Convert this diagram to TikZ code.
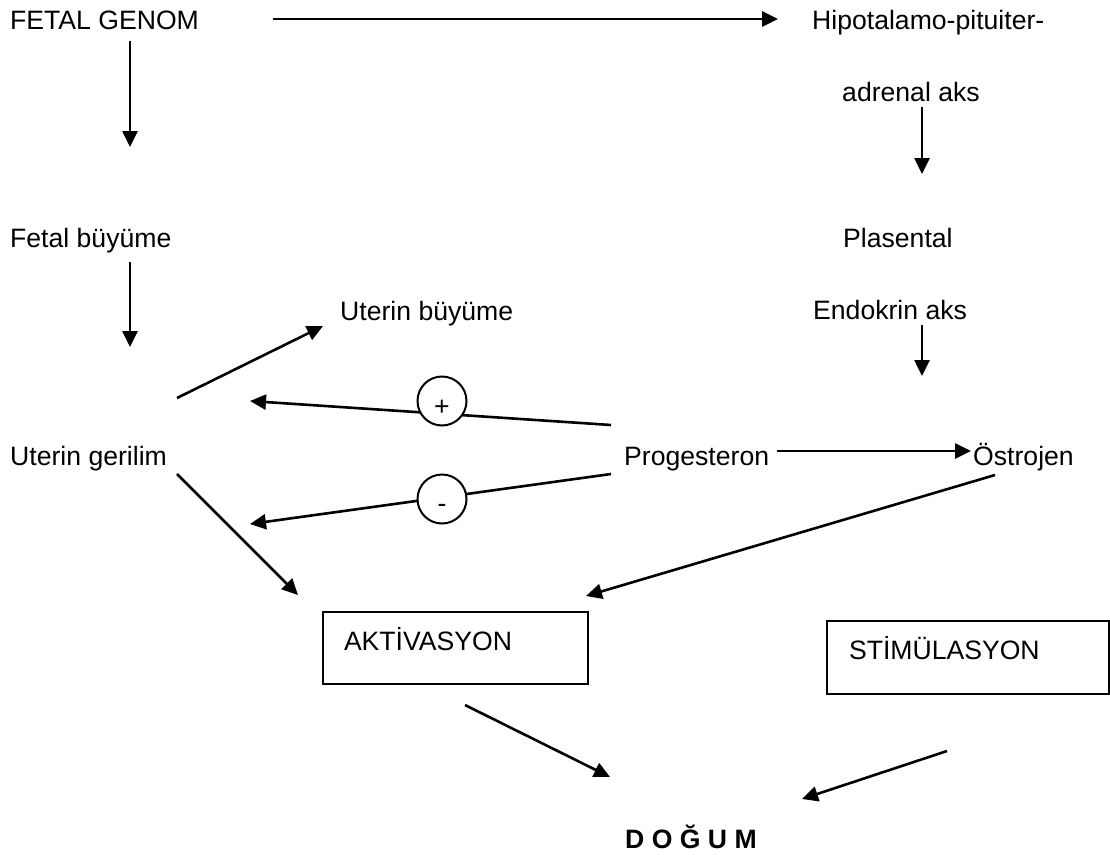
\documentclass[tikz,border=0pt]{standalone}
\usepackage{fontspec}
\setmainfont{Liberation Sans}
\usetikzlibrary{arrows.meta}
\begin{document}
\begin{tikzpicture}[x=1pt,y=-1pt,
  lbl/.style={anchor=base west, inner sep=0pt, font=\fontsize{26.6}{31}\selectfont},
  arr/.style={line width=2.6pt, -{Triangle[length=16pt,width=15pt]}},
  box/.style={draw, line width=2pt, anchor=north west, inner ysep=0pt, align=left, font=\fontsize{26.6}{31}\selectfont},
  sign/.style={circle, draw, line width=2pt, fill=white, minimum size=49pt, inner sep=0pt, font=\fontsize{26.6}{31}\selectfont}]
\useasboundingbox (0,0) rectangle (1110,854);
% text nodes
\node[lbl] (fg) at (10,29) {FETAL GENOM};
\node[lbl] (hpa1) at (812,29) {Hipotalamo-pituiter-};
\node[lbl] (hpa2) at (842,101) {adrenal aks};
\node[lbl] (fb) at (10,247) {Fetal büyüme};
\node[lbl] (pl1) at (843,247) {Plasental};
\node[lbl] (ub) at (340,320) {Uterin büyüme};
\node[lbl] (pl2) at (813,319) {Endokrin aks};
\node[lbl] (ug) at (10,465) {Uterin gerilim};
\node[lbl] (pr) at (624,465) {Progesteron};
\node[lbl] (os) at (973,465) {Östrojen};
\node[box, text width=223pt, inner xsep=21pt, text height=38pt, text depth=34pt] (akt) at (322,611) {AKTİVASYON};
\node[box, text width=238pt, inner xsep=22pt, text height=38pt, text depth=35pt] (stim) at (826,620) {STİMÜLASYON};
\node[lbl, font=\fontsize{26.6}{31}\selectfont\bfseries] (dog) at (625,848) {D O Ğ U M};
% connector end points
\coordinate (fg-r) at (273,19);
\coordinate (hpa-l) at (778,19);
\coordinate (fg-b) at (130,41);
\coordinate (fb-t) at (130,147);
\coordinate (hpa-b) at (922,107);
\coordinate (pl-t) at (922,174);
\coordinate (fb-b) at (130,262);
\coordinate (ug-t) at (130,347);
\coordinate (pl-b) at (922,325);
\coordinate (os-t) at (922,376);
\coordinate (ug-ur) at (177,398);
\coordinate (ub-l) at (323,326);
\coordinate (pr-ul) at (611,425);
\coordinate (ug-p) at (250,401);
\coordinate (pr-ll) at (611,474);
\coordinate (ug-m) at (250,524);
\coordinate (ug-lr) at (177,474);
\coordinate (akt-ul) at (298,595);
\coordinate (pr-r) at (777,451);
\coordinate (os-l) at (971,451);
\coordinate (os-b) at (995,475);
\coordinate (akt-ur) at (586,596);
\coordinate (akt-b) at (465,705);
\coordinate (dog-l) at (610,777);
\coordinate (stim-b) at (947,751);
\coordinate (dog-r) at (802,799);
% connectors
\draw[arr] (fg-r) -- (hpa-l);
\draw[arr] (fg-b) -- (fb-t);
\draw[arr] (hpa-b) -- (pl-t);
\draw[arr] (fb-b) -- (ug-t);
\draw[arr] (pl-b) -- (os-t);
\draw[arr] (ug-ur) -- (ub-l);
\draw[arr] (pr-ul) -- (ug-p);
\draw[arr] (pr-ll) -- (ug-m);
\draw[arr] (ug-lr) -- (akt-ul);
\draw[arr] (pr-r) -- (os-l);
\draw[arr] (os-b) -- (akt-ur);
\draw[arr] (akt-b) -- (dog-l);
\draw[arr] (stim-b) -- (dog-r);
% sign circles
\node[sign] (plus) at (442,401) {\raisebox{-14pt}[0pt][0pt]{+}};
\node[sign] (minus) at (442,499) {\raisebox{-13pt}[0pt][0pt]{-}};
\end{tikzpicture}
\end{document}
